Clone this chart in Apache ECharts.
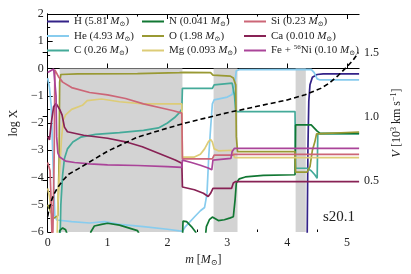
<!DOCTYPE html>
<html><head><meta charset="utf-8">
<script src="https://cdn.jsdelivr.net/npm/echarts@6/dist/echarts.min.js"></script>
<style>html,body{margin:0;padding:0;background:#fff}#c{width:411px;height:274px}</style>
</head><body><div id="c"></div><script>
// ---- data ----
const xMajorTicks = [0, 1, 2, 3, 4, 5];
const xMinorTicks = [0.5, 1.5, 2.5, 3.5, 4.5];
const vTicks = [0.5, 1.0, 1.5];
const shadedRanges = [[0.2, 2.25], [2.77, 3.17], [4.14, 4.31]];
const legendCol1 = ['H', 'He', 'C'];
const legendCol2 = ['N', 'O', 'Mg'];
const legendCol3 = ['Si', 'Ca', 'Fe'];
const massH = '5.81', massHe = '4.93', massC = '0.26', massN = '0.041', massO = '1.98',
      massMg = '0.093', massSi = '0.23', massCa = '0.010', massFe = '0.10';

const H = [[4.33,-7],[4.345,-3],[4.36,-1.2],[4.38,-0.6],[4.42,-0.32],[4.5,-0.22],[4.6,-0.2],[5.2,-0.2]];
const He = [[0,-0.35],[0.03,-0.7],[0.06,-1.4],[0.09,-3.5],[0.12,-5.4],[0.15,-5.56],[0.4,-5.62],[0.7,-5.67],[0.95,-5.62],[1.2,-5.72],[1.6,-5.8],[2.0,-5.9],[2.2,-5.96],[2.25,-5.97],[2.3,-5.8],[2.45,-5.45],[2.55,-5.22],[2.62,-5.1],[2.66,-4.6],[2.69,-3.2],[2.72,-2.2],[2.75,-1.3],[2.78,-1.15],[3.0,-1.05],[3.08,-0.95],[3.12,-0.6],[3.15,-0.08],[3.2,-0.04],[4.4,-0.03],[4.45,-0.15],[4.5,-0.38],[4.55,-0.42],[5.2,-0.42]];
const C = [[0.2,-7],[0.22,-5],[0.25,-3.9],[0.28,-3.3],[0.33,-2.95],[0.42,-2.7],[0.55,-2.52],[0.8,-2.42],[1.2,-2.35],[1.6,-2.27],[1.85,-2.18],[2.0,-2.0],[2.12,-1.8],[2.2,-1.62],[2.24,-1.5],[2.25,-0.73],[2.75,-0.73],[2.78,-0.6],[3.08,-0.54],[3.12,-1.0],[3.14,-1.58],[4.13,-1.58],[4.14,-3.66],[4.33,-3.66],[4.4,-3.75],[4.46,-3.9],[4.5,-4.03],[4.51,-2.4],[5.2,-2.4]];
const N = [[0.18,-7],[0.2,-5.95],[0.25,-5.85],[0.3,-5.92],[0.36,-6.3],[0.5,-7],[0.68,-7],[0.72,-6],[0.78,-5.78],[0.9,-5.72],[1.0,-5.68],[1.2,-5.75],[1.5,-5.95],[1.6,-6.4],[1.8,-7],[2.24,-7],[2.26,-5.6],[2.32,-5.62],[2.4,-5.8],[2.47,-6],[2.52,-6.6],[2.58,-7],[2.62,-6.5],[2.65,-5.8],[2.7,-5.55],[2.75,-5.45],[2.85,-5.58],[2.95,-5.55],[3.05,-5.48],[3.1,-5.44],[3.13,-4.8],[3.15,-4.2],[3.2,-4.05],[3.3,-3.98],[3.6,-3.92],[4.13,-3.9],[4.14,-2.07],[4.4,-2.07],[4.5,-2.3],[4.55,-2.38],[5.2,-2.38]];
const O = [[0,-5.0],[0.1,-5.5],[0.17,-5.4],[0.19,-3.5],[0.2,-0.5],[0.22,-0.22],[0.5,-0.2],[1.5,-0.19],[2.2,-0.15],[2.27,-0.14],[2.72,-0.15],[2.76,-0.24],[3.05,-0.28],[3.1,-0.35],[3.14,-0.6],[3.15,-2.5],[3.17,-3.05],[4.13,-3.05],[4.14,-3.8],[4.33,-3.8],[4.38,-3.6],[4.42,-3.0],[4.46,-2.7],[4.49,-2.4],[4.52,-2.33],[5.2,-2.33]];
const Mg = [[0,-4.4],[0.03,-4.7],[0.06,-5.2],[0.09,-7],[0.15,-7],[0.17,-5],[0.2,-3.7],[0.23,-2.6],[0.26,-1.9],[0.3,-1.7],[0.4,-1.5],[0.58,-1.35],[0.66,-1.18],[0.9,-1.12],[1.2,-1.22],[1.6,-1.3],[2.24,-1.3],[2.25,-3.25],[2.45,-3.25],[2.55,-3.15],[2.62,-2.95],[2.68,-2.7],[2.72,-2.6],[2.75,-2.7],[2.78,-2.95],[2.85,-3.02],[3.08,-3.0],[3.12,-3.27],[5.2,-3.27]];
const Si = [[0,-3.45],[0.02,-3.6],[0.04,-3.75],[0.06,-5],[0.08,-7],[0.1,-7],[0.11,-3],[0.12,-0.05],[0.15,-0.1],[0.18,-0.3],[0.25,-0.5],[0.4,-0.7],[0.7,-0.88],[1.0,-0.97],[1.3,-1.1],[1.6,-1.3],[1.9,-1.45],[2.1,-1.55],[2.24,-1.64],[2.25,-3.32],[2.75,-3.32],[2.78,-3.18],[3.08,-3.18],[3.12,-3.15],[5.2,-3.15]];
const Ca = [[0,-2.5],[0.03,-2.62],[0.06,-2.0],[0.1,-1.4],[0.14,-1.28],[0.2,-1.5],[0.24,-1.7],[0.28,-2.15],[0.33,-2.32],[0.6,-2.45],[1.0,-2.56],[1.3,-2.69],[1.58,-2.87],[1.85,-3.11],[2.13,-3.36],[2.24,-3.48],[2.25,-4.35],[2.45,-4.45],[2.6,-4.58],[2.68,-4.7],[2.72,-4.58],[2.76,-4.4],[3.07,-4.4],[3.1,-4.2],[3.14,-4.15],[5.2,-4.15]];
const Fe = [[0,-0.15],[0.05,-0.08],[0.1,-0.02],[0.13,-0.05],[0.14,-1],[0.15,-2.5],[0.17,-3.1],[0.2,-3.25],[0.3,-3.4],[0.45,-3.45],[0.7,-3.5],[1.0,-3.54],[1.5,-3.56],[2.0,-3.6],[2.24,-3.63],[2.25,-3.36],[2.4,-3.45],[2.55,-3.55],[2.68,-3.65],[2.74,-3.72],[2.76,-3.36],[3.06,-3.3],[3.08,-3.05],[3.12,-2.93],[5.2,-2.93]];
const V = [[0,0.22],[0.02,0.27],[0.06,0.34],[0.1,0.39],[0.17,0.45],[0.25,0.5],[0.35,0.55],[0.5,0.59],[0.75,0.66],[1.0,0.73],[1.5,0.84],[2.0,0.91],[2.3,0.95],[3.0,1.03],[3.5,1.08],[4.0,1.13],[4.3,1.17],[4.56,1.22],[4.7,1.26],[4.85,1.32],[5.0,1.39],[5.1,1.44],[5.19,1.5]];

// ---- chart ----
const FONT = '"Liberation Serif","DejaVu Serif",serif';
const colors = {H:'#332288',He:'#88CCEE',C:'#44AA99',N:'#117733',O:'#999933',Mg:'#DDCC77',Si:'#CC6677',Ca:'#882255',Fe:'#AA4499'};
const dataMap = {H,He,C,N,O,Mg,Si,Ca,Fe};
const massMap = {H:massH,He:massHe,C:massC,N:massN,O:massO,Mg:massMg,Si:massSi,Ca:massCa,Fe:massFe};
const rich = {
  i:{fontStyle:'italic',fontFamily:FONT,fontSize:11,color:'#222'},
  s:{fontSize:7,fontFamily:'"DejaVu Serif",serif',color:'#222',verticalAlign:'bottom',lineHeight:13},
  p:{fontSize:7,fontFamily:FONT,color:'#222',verticalAlign:'top',lineHeight:13}
};
function legendText(name){
  const label = name === 'Fe' ? 'Fe + {p|56}Ni' : name;
  return label + ' (' + massMap[name] + ' {i|M}{s|⊙})';
}
function mkLegend(list,left){
  return {data:list,orient:'vertical',left:left,top:15,icon:'rect',itemWidth:22,itemHeight:2,itemGap:1.5,
    formatter:legendText,textStyle:{fontFamily:FONT,fontSize:11,color:'#222',lineHeight:13,rich:rich},
    selectedMode:false,padding:0};
}
const series = [{type:'line',data:[],xAxisIndex:0,yAxisIndex:0,z:1,
  markArea:{silent:true,itemStyle:{color:'#d3d3d3'},
    data:shadedRanges.map(r=>[{xAxis:r[0],yAxis:-6},{xAxis:r[1],yAxis:0}])}}];
['H','He','C','N','O','Mg','Si','Ca','Fe'].forEach(k=>{
  series.push({name:k,type:'line',data:dataMap[k],xAxisIndex:0,yAxisIndex:0,symbol:'none',showSymbol:false,
    z:2,clip:true,color:colors[k],itemStyle:{color:colors[k]},lineStyle:{color:colors[k],width:1.7}});
});
series.push({name:'V',type:'line',data:V,xAxisIndex:0,yAxisIndex:1,symbol:'none',showSymbol:false,z:3,clip:true,
  color:'#000',lineStyle:{color:'#000',width:1.6,type:[5,3]}});

const axLine = {show:true,lineStyle:{color:'#000',width:1}};
const minus = v => (v<0?'\u2212'+(-v):String(v));
const option = {
  animation:false,
  grid:{left:41,right:50,top:14,bottom:42},
  legend:[mkLegend(legendCol1,47),mkLegend(legendCol2,142),mkLegend(legendCol3,244)],
  xAxis:[
    {type:'value',min:0,max:5.2,position:'bottom',axisLine:axLine,splitLine:{show:false},
     axisTick:{inside:true,length:5,customValues:xMajorTicks,lineStyle:{color:'#000'}},
     axisLabel:{customValues:xMajorTicks,fontFamily:FONT,fontSize:12,color:'#222',margin:5},
     name:'{i|m} [{i|M}{s|⊙}]',nameLocation:'middle',nameGap:19,
     nameTextStyle:{fontFamily:FONT,fontSize:12,color:'#222',rich:{i:{fontStyle:'italic',fontFamily:FONT,fontSize:12,color:'#222'},s:{fontSize:8,fontFamily:'"DejaVu Serif",serif',color:'#222',verticalAlign:'bottom',lineHeight:14}}}},
    {type:'value',min:0,max:5.2,position:'bottom',axisLine:{show:false},splitLine:{show:false},
     axisTick:{inside:true,length:2.5,customValues:xMinorTicks,lineStyle:{color:'#000'}},axisLabel:{show:false}},
    {type:'value',min:0,max:5.2,position:'top',axisLine:axLine,splitLine:{show:false},
     axisTick:{inside:true,length:5,customValues:xMajorTicks,lineStyle:{color:'#000'}},axisLabel:{show:false}},
    {type:'value',min:0,max:5.2,position:'top',axisLine:{show:false},splitLine:{show:false},
     axisTick:{inside:true,length:2.5,customValues:xMinorTicks,lineStyle:{color:'#000'}},axisLabel:{show:false}}
  ],
  yAxis:[
    {type:'value',min:-6,max:2,interval:1,position:'left',axisLine:axLine,splitLine:{show:false},
     axisTick:{inside:true,length:5,lineStyle:{color:'#000'}},
     minorTick:{show:true,splitNumber:2,length:2.5,lineStyle:{color:'#000'}},minorSplitLine:{show:false},
     axisLabel:{formatter:minus,fontFamily:FONT,fontSize:12,color:'#222',margin:4},
     name:'log X',nameLocation:'middle',nameGap:25,nameRotate:90,
     nameTextStyle:{fontFamily:FONT,fontSize:12,color:'#222'}},
    {type:'value',min:0.1,max:1.8,position:'right',axisLine:axLine,splitLine:{show:false},
     axisTick:{inside:true,length:5,customValues:vTicks,lineStyle:{color:'#000'}},
     axisLabel:{customValues:vTicks,formatter:v=>v.toFixed(1),fontFamily:FONT,fontSize:12,color:'#222',margin:5},
     name:'{i|V} [10{p|3} km s{p|\u22121}]',nameLocation:'middle',nameGap:25,nameRotate:90,
     nameTextStyle:{fontFamily:FONT,fontSize:12,color:'#222',rich:{i:{fontStyle:'italic',fontFamily:FONT,fontSize:12,color:'#222'},p:{fontSize:8,fontFamily:FONT,color:'#222',verticalAlign:'top',lineHeight:14}}}}
  ],
  graphic:[{type:'text',left:323,top:210,style:{text:'s20.1',font:'15px "Liberation Serif","DejaVu Serif",serif',fill:'#222'}}],
  series:series
};
const chart = echarts.init(document.getElementById('c'),null,{renderer:'canvas'});
chart.setOption(option);
</script></body></html>
